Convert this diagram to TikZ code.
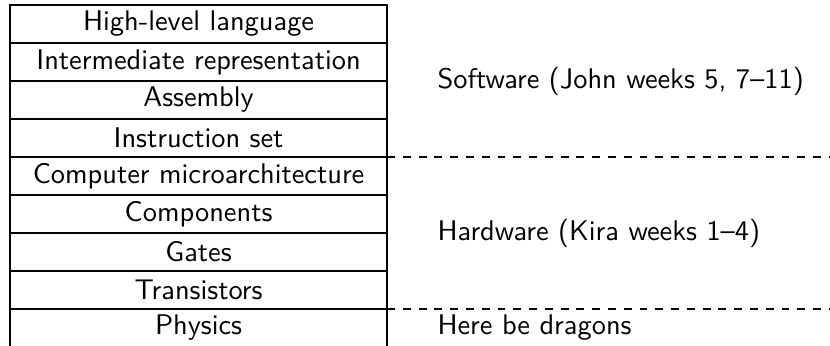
\documentclass[tikz,border=0pt]{standalone}
\usetikzlibrary{positioning,calc}
\newcommand{\layerfont}{\sffamily\fontsize{10.8pt}{13pt}\selectfont}
\tikzset{
  layer/.style={draw=black,line width=1pt,rectangle,outer sep=0pt,
    minimum width=5.04cm,minimum height=0.508cm,inner sep=0pt,
    align=center,font=\layerfont},
  teamlabel/.style={anchor=west,font=\layerfont},
  divider/.style={draw=black,line width=0.9pt,dashed},
}
\begin{document}
\begin{tikzpicture}
  \clip (-0.134,0.067) rectangle (10.96,-4.557);
  % the stack, top to bottom
  \node[layer,anchor=north west] (hll) at (0,0) {High-level language};
  \node[layer,below=0pt of hll] (ir) {Intermediate representation};
  \node[layer,below=0pt of ir] (asm) {Assembly};
  \node[layer,below=0pt of asm] (isa) {Instruction set};
  \node[layer,below=0pt of isa] (uarch) {Computer microarchitecture};
  \node[layer,below=0pt of uarch] (comp) {Components};
  \node[layer,below=0pt of comp] (gates) {Gates};
  \node[layer,below=0pt of gates] (trans) {Transistors};
  \node[layer,below=0pt of trans] (phys) {Physics};
  % who teaches what
  \coordinate (rim) at (10.96,0);
  \node[teamlabel,right=0.55cm of ir.south east] (sw) {Software (John weeks 5, 7--11)};
  \node[teamlabel,right=0.55cm of comp.south east] (hw) {Hardware (Kira weeks 1--4)};
  \node[teamlabel,right=0.55cm of phys.east] (dragons) {Here be dragons};
  \draw[divider] (isa.south east) -- (isa.south east -| rim);
  \draw[divider] (trans.south east) -- (trans.south east -| rim);
\end{tikzpicture}
\end{document}
